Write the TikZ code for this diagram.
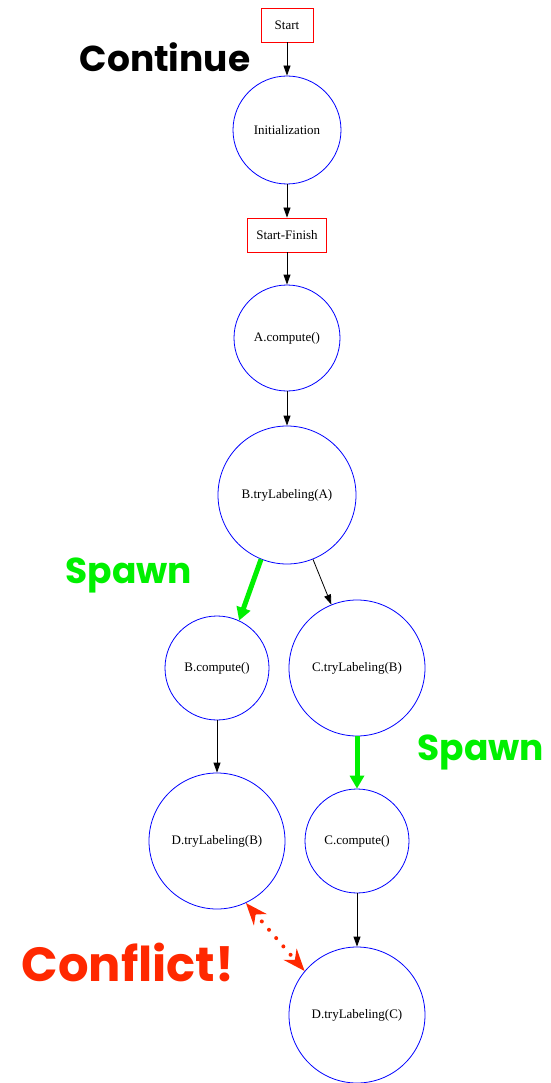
\documentclass[tikz,border=0pt]{standalone}
\usepackage{fontspec}
\setmainfont{Liberation Serif}
\newfontfamily\handfont{Poppins}
\usetikzlibrary{arrows.meta}

\definecolor{spawngreen}{RGB}{0,240,0}
\definecolor{conflictred}{RGB}{255,40,0}

\tikzset{
  task/.style={draw=red, thick, minimum width=#1, minimum height=34pt, inner sep=0pt, font=\fontsize{13}{15}\selectfont},
  job/.style={draw=blue, thick, circle, minimum size=#1, inner sep=0pt, font=\fontsize{13}{15}\selectfont},
  flow/.style={draw=black, thick, -{Triangle[length=10pt,width=7pt]}},
  spawn/.style={draw=spawngreen, line width=5pt, -{Triangle[length=13pt,width=14pt]}},
  note/.style={font=\handfont\bfseries\fontsize{#1}{#1}\selectfont},
  note/.default=36
}

\begin{document}
\begin{tikzpicture}[x=1pt,y=-1pt]
		\useasboundingbox (0,0) rectangle (550,1083);

		% Nodes
		\node[task=52pt] (start) at (287,25) {Start};
		\node[job=108pt] (init) at (287,130) {Initialization};
		\node[task=79pt] (sf) at (287,235) {Start-Finish};
		\node[job=106pt] (acomp) at (287,338) {A.compute()};
		\node[job=138pt] (blabA) at (287,495) {B.tryLabeling(A)};
		\node[job=104pt] (bcomp) at (217,668) {B.compute()};
		\node[job=136pt] (clabB) at (357,668) {C.tryLabeling(B)};
		\node[job=136pt] (dlabB) at (217,841) {D.tryLabeling(B)};
		\node[job=104pt] (ccomp) at (357,841) {C.compute()};
		\node[job=136pt] (dlabC) at (357,1015) {D.tryLabeling(C)};

		% Edges
		\draw[flow] (start) -- (init);
		\draw[flow] (init) -- (sf);
		\draw[flow] (sf) -- (acomp);
		\draw[flow] (acomp) -- (blabA);
		\draw[flow] (blabA.-68) -- (clabB);
		\draw[spawn] (blabA.-112) -- (bcomp.65);
		\draw[flow] (bcomp) -- (dlabB);
		\draw[spawn] (clabB) -- (ccomp);
		\draw[flow] (ccomp) -- (dlabC);
		\draw[conflictred, line width=4pt, line cap=round, dash pattern=on 0pt off 11pt,
		      {Stealth[length=22pt,width=17pt]}-{Stealth[length=22pt,width=17pt]}]
		  (dlabB.-65) -- (dlabC.140);

		% Labels
		\node[note] (cont) at (165,57) {Continue};
		\node[note, spawngreen] (spawnA) at (129,575) {Spawn};
		\node[note, spawngreen] (spawnB) at (481,752) {Spawn};
		\node[note=48, conflictred] (confl) at (128,962) {Conflict!};
	\end{tikzpicture}
\end{document}
